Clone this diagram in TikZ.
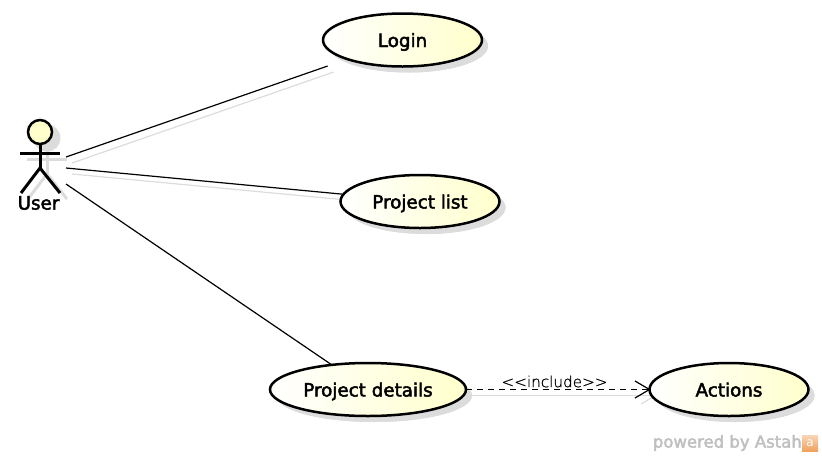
\documentclass[tikz,border=0pt]{standalone}
\usepackage{fontspec}
\setmainfont{DejaVu Sans}
\newfontfamily\usecasefont[FakeBold=2.5]{DejaVu Sans}
\newfontfamily\stereofont[FakeBold=0.8]{DejaVu Sans ExtraLight}
\usetikzlibrary{shapes.geometric,shadows}
\pgfdeclarelayer{behind}
\pgfsetlayers{behind,main}
\definecolor{ucyellow}{RGB}{255,255,204}
\definecolor{ucshadow}{RGB}{220,220,220}
\definecolor{astahorange}{RGB}{240,160,90}
\tikzset{
  usecase/.style={ellipse, draw=black, line width=2.5pt, inner sep=0, outer sep=0,
    left color=white, right color=ucyellow, minimum height=53pt,
    text height=14pt, text depth=0pt,
    font=\usecasefont\fontsize{18.3}{18.3}\selectfont,
    copy shadow={shadow xshift=6pt, shadow yshift=-6pt, draw=none, fill=ucshadow, left color=ucshadow, right color=ucshadow}},
  assoc/.style={draw=black, line width=1.2pt},
  assocshadow/.style={draw=ucshadow, line width=1.2pt, transform canvas={shift={(6pt,-6pt)}}},
  limb/.style={draw=black, line width=3pt},
  limbshadow/.style={draw=ucshadow, line width=3pt},
}
\begin{document}
\begin{tikzpicture}[x=1pt, y=-1pt]
  \useasboundingbox (0,0) rectangle (822,456);

  % Actor shadow
  \begin{scope}[shift={(7,6)}]
    \fill[ucshadow] (40,132) circle (13.5);
    \draw[limbshadow] (40,145) -- (40,168) (20,153) -- (60,153);
    \draw[limbshadow] (21,193) -- (40,168) -- (60,193);
  \end{scope}

  % Actor
  \node[circle, draw=black, line width=2.5pt, fill=ucyellow, minimum size=24pt, inner sep=0] (head) at (40,132) {};
  \coordinate (hip) at (40,168);
  \coordinate (armL) at (20,153);
  \coordinate (armR) at (60,153);
  \coordinate (footL) at (21,193);
  \coordinate (footR) at (60,193);
  \draw[limb] (head) -- (hip);
  \draw[limb] (armL) -- (armR);
  \draw[limb] (footL) -- (hip) -- (footR);
  \node[font=\usecasefont\fontsize{18.3}{18.3}\selectfont, inner sep=0] (user) at (38.5,203) {User};

  % Use cases
  \foreach \name/\x/\y/\w/\txt in {
    login/402.5/40/159/Login,
    list/420/201.5/159/Project list,
    details/368/389.5/196/Project details,
    actions/729/389.5/159/Actions
  } {
    \node[usecase, minimum width=\w pt] (\name) at (\x,\y) {\txt};
  }

  % Free ends at the actor
  \coordinate (userA) at (66,157);
  \coordinate (userB) at (66,168);
  \coordinate (userC) at (66,184);
  \coordinate (tipTop) at (635,381);
  \coordinate (tipBot) at (635,398);

  % Associations
  \begin{pgfonlayer}{behind}
    \draw[assocshadow, shorten >=21pt] (userA) -- (login);
    \draw[assocshadow] (userB) -- (list);
    \draw[assocshadow] (details) -- (actions);
    \draw[assocshadow] (tipBot) -- (actions.west);
  \end{pgfonlayer}
  \draw[assoc, shorten >=21pt] (userA) -- (login);
  \draw[assoc] (userB) -- (list);
  \draw[assoc] (userC) -- (details);

  % Include
  \draw[draw=black, line width=1.2pt, dash pattern=on 6pt off 5pt] (details) -- (actions);
  \node[font=\stereofont\fontsize{15.2}{15.2}\selectfont, inner sep=0] (incl) at (554.5,381.5) {{<}{<}include{>}{>}};
  \draw[draw=black, line width=1.2pt] (tipTop) -- (actions.west) -- (tipBot);

  % Logo
  \node[font=\usecasefont\fontsize{16.5}{16.5}\selectfont, text=black!25, inner sep=0, anchor=east] (powered) at (802,443) {powered by Astah};
  \node[top color=astahorange!45, bottom color=astahorange, minimum size=16pt, inner sep=0, text=white, font=\fontsize{12}{12}\selectfont] (logo) at (810,443.5) {a};
\end{tikzpicture}
\end{document}
